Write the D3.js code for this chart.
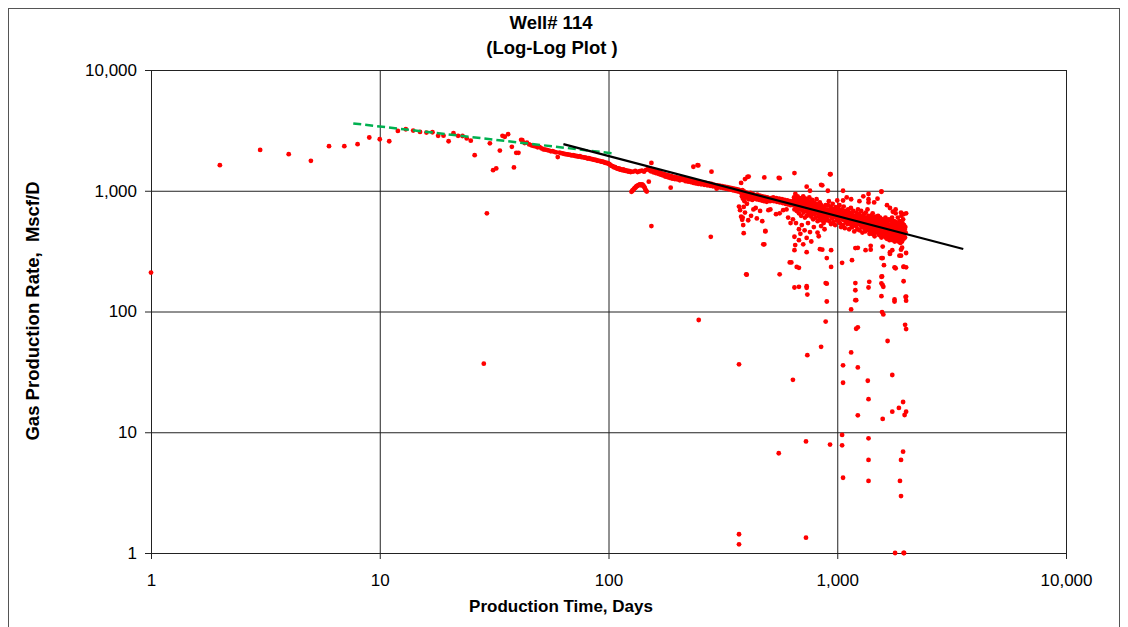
<!doctype html>
<html>
<head>
<meta charset="utf-8">
<script src="https://cdn.jsdelivr.net/npm/d3@7"></script>
<style>
  body { margin: 0; background: #fff; }
  text { font-family: "Liberation Sans", Arial, sans-serif; }
</style>
</head>
<body>
<svg width="1128" height="627"></svg>
<script>
// tick values (both axes are log scale)
var xTicks = [1, 10, 100, 1000, 10000];
var yTicks = [1, 10, 100, 1000, 10000];

// fitted trend lines [day, rate]
var greenFit = [[7.66, 3610], [105, 2040]];
var blackFit = [[63.5, 2430], [3556, 329]];

// gas rate points [day, Mscf/D]
var earlyPoints = [[1,210],[2,1630],[3,2180],[4,2010],[5,1770],[6,2340],[7,2340],[8,2430],[9,2760],[10,2670],
  [11,2570],[12,3130],[13,3230],[14,3150],[15,3070],[16,3030],[17,3050],[18,2850],[19,2860],[20,2570],
  [21,3000],[22,2850],[23,2840],[24,2710],[25,2600],[26,1970],[28.5,37],[29.4,650],[30.3,2470],[31.3,1480],
  [32.3,1530],[33.5,2150],[34.4,2850],[35.2,2800],[36.4,2940],[37.8,2310],[38.6,1560],[39.5,2060],[40.4,2060],[41.5,2640]];

var declinePoints = [[42,2620],[43,2480],[44,2500],[45,2420],[46,2380],[47,2350],[48,2330],[49,2290],[50,2300],
  [51,2240],[52,2200],[53,2190],[54,2170],[55,2150],[56,2120],[57,2130],[58,2100],[59,2080],[60,1900],[61,2070],
  [62,2050],[63,2040],[64,2020],[65,2010],[66,2000],[67,1990],[68,1980],[69,1960],[70,1970],[71,1950],[72,1940],
  [73,1930],[74,1920],[75,1930],[76,1900],[77,1900],[78,1890],[79,1880],[80,1870],[81,1850],[82,1860],[83,1840],
  [84,1830],[85,1830],[86,1810],[87,1800],[88,1800],[89,1780],[90,1770],[91,1770],[92,1760],[93,1740],[94,1740],
  [95,1730],[96,1720],[97,1700],[98,1700],[99,1690],[100,1680],[101,1660],[102,1630],[103,1610],[104,1600],
  [105,1580],[106,1560],[107,1570],[108,1540],[109,1530],[110,1520],[111,1530],[112,1500],[113,1510],[114,1490],
  [115,1480],[116,1500],[117,1470],[118,1480],[119,1460],[120,1470],[121,1450],[122,1460],[123,1440],[124,1450],
  [125,1430],[128,1440],[131,1460],[134,1430],[137,1450],[140,1470],[143,1440],[146,1490],
  [126,980],[127,1000],[128,1010],[129,1030],[130,1050],[131,1060],[132,1080],[133,1090],[134,1100],[135,1110],
  [136,1120],[137,1130],[138,1120],[139,1110],[140,1130],[141,1120],[142,1100],[143,1080],[144,1060],[145,1020],
  [146,1000],[147,985],
  [149,1520],[151,1480],[153,1450],[155,1500],[157,1420],[159,1460],[161,1400],[163,1440],[165,1380],[167,1420],
  [169,1360],[171,1390],[173,1340],[175,1370],[177,1310],[179,1350],[181,1300],[183,1340],[185,1280],[188,1320],
  [190,1260],[193,1300],[195,1250],[198,1290],[200,1240],[203,1280],[205,1220],[208,1270],[211,1230],[214,1260],
  [217,1200],[220,1240],[223,1190],[226,1230],[229,1180],[232,1220],[235,1160],[238,1200],[241,1150],[244,1190],
  [247,1140],[250,1180],[254,1130],[258,1170],[262,1120],[266,1160],[270,1110],[274,1150],[278,1100],[282,1140],
  [286,1090],[290,1120],[294,1080],[298,1110],[302,1070],[306,1100],[310,1060],[314,1090],[318,1050],[322,1080],
  [326,1040],[330,1070],[334,1030],[338,1060],[342,1020],[346,1050],[350,1010],[354,1040],[358,1000],[362,1030],
  [366,990],[370,1020],[374,980],[378,1000]];

var latePoints = [[381,960],[383,900],[385,1010],[387,860],[389,940],[391,990],[393,820],[395,920],[397,970],[399,880],
  [401,940],[403,780],[405,960],[408,900],[410,850],[412,930],[415,890],[417,960],[420,870],[422,910],[425,840],
  [427,940],[430,890],[433,860],[435,920],[438,880],[441,900],[444,850],[447,930],[450,870],[453,890],[456,840],
  [459,910],[462,860],[465,880],[468,830],[471,900],[474,850],[477,870],[480,820],[483,890],[486,840],[489,860],
  [492,810],[495,880],[498,830],[501,850],[505,860],[509,820],[513,870],[517,830],[521,850],[525,880],[529,820],
  [533,860],[537,840],[541,870],[545,810],[549,850],[553,830],[557,860],[561,800],[565,840],[569,820],[573,850],
  [577,790],[581,830],[585,810],[589,840],[593,780],[597,820],[601,800],[605,830],[609,770],[613,810],[617,790],
  [621,820],[625,760],[629,800],[633,780],[637,810],
  [641,820],[644,760],[647,880],[650,700],[653,800],[656,940],[659,740],[662,850],[665,680],[668,790],[671,900],
  [674,720],[677,820],[680,650],[683,770],[686,870],[689,700],[692,800],[695,620],[698,750],[701,850],[704,690],
  [707,780],[710,900],[713,660],[716,760],[719,820],[722,600],[725,730],[728,860],[731,680],[734,790],[737,620],
  [740,740],[743,830],[746,660],[749,770],[752,700],[755,880],[758,640],[761,750],[764,690],[767,800],[770,610],
  [773,720],[776,840],[779,660],[782,760],[785,580],[788,700],[791,800],[794,640],[797,730],[800,670],[803,780],
  [806,600],[809,710],[812,850],[815,650],[818,740],[821,560],[824,690],[827,780],[830,620],[833,720],[836,660],
  [839,800],[842,590],[845,700],[848,640],[851,760],[854,570],[857,680],[860,620],[863,740],[866,600],[869,700],
  [872,540],[875,650],[878,720],[881,590],[884,680],[887,630],[890,760],[893,570],[896,660],[899,610],
  [903,700],[907,580],[911,760],[915,640],[919,820],[923,560],[927,690],[931,620],[935,740],[939,530],[943,660],
  [947,710],[951,590],[955,780],[959,640],[963,550],[967,700],[971,610],[975,670],[979,520],[983,730],[987,600],
  [991,650],[995,570],[999,690],
  [1003,610],[1007,720],[1011,560],[1015,650],[1019,590],[1023,760],[1027,540],[1031,680],[1035,620],[1039,500],
  [1043,640],[1047,700],[1051,580],[1055,660],[1059,520],[1063,610],[1067,740],[1071,570],[1075,630],[1079,490],
  [1083,600],[1087,680],[1091,550],[1095,620],[1099,580],
  [1103,650],[1107,530],[1111,600],[1115,700],[1119,560],[1123,620],[1127,480],[1131,590],[1135,660],[1139,540],
  [1143,610],[1147,720],[1151,520],[1155,580],[1159,640],[1163,500],[1167,600],[1171,560],[1175,680],[1179,530],
  [1183,590],[1187,460],[1191,570],[1195,620],[1199,540],
  [1204,600],[1208,510],[1212,660],[1216,560],[1220,620],[1224,480],[1228,580],[1232,700],[1236,530],[1240,600],
  [1244,550],[1248,640],[1252,470],[1256,570],[1260,610],[1264,520],[1268,590],[1272,680],[1276,500],[1280,560],
  [1284,620],[1288,450],[1292,540],[1296,600],
  [1300,520],[1304,580],[1308,640],[1312,490],[1316,560],[1320,600],[1324,460],[1328,540],[1332,660],[1336,510],
  [1340,570],[1344,480],[1348,590],[1352,530],[1356,700],[1360,500],[1364,560],[1368,620],[1372,470],[1376,540],
  [1380,580],[1384,440],[1388,520],[1392,600],[1396,490],
  [1400,550],[1404,620],[1408,470],[1412,530],[1416,580],[1420,440],[1424,510],[1428,650],[1432,490],[1436,560],
  [1440,600],[1444,460],[1448,530],[1452,570],[1456,420],[1460,500],[1464,610],[1468,480],[1472,540],[1476,450],
  [1480,520],[1484,590],[1488,470],[1492,530],[1496,560],
  [1500,480],[1504,540],[1508,620],[1512,450],[1516,510],[1520,570],[1524,430],[1528,500],[1532,550],[1536,470],
  [1540,600],[1544,440],[1548,520],[1552,480],[1556,560],[1560,410],[1564,500],[1568,540],[1572,460],[1576,580],
  [1580,430],[1584,510],[1588,470],[1592,550],[1596,440],
  [1600,500],[1604,560],[1608,420],[1612,480],[1616,530],[1620,450],[1624,600],[1628,410],[1632,490],[1636,540],
  [1640,460],[1644,510],[1648,400],[1652,470],[1656,560],[1660,440],[1664,500],[1668,530],[1672,420],[1676,480],
  [1680,580],[1684,450],[1688,510],[1692,390],[1696,470],
  [1700,520],[1704,440],[1708,490],[1712,570],[1716,410],[1720,470],[1724,530],[1728,430],[1732,500],[1736,600],
  [1740,420],[1744,480],[1748,390],[1752,460],[1756,540],[1760,430],[1764,490],[1768,410],[1772,560],[1776,450],
  [1780,500],[1784,380],[1788,470],[1792,520],[1796,430],
  [1800,480],[1804,410],[1808,550],[1812,450],[1816,500],[1820,390],[1824,460],[1828,520],[1832,420],[1836,480],
  [1840,600],[1844,440],[1848,500],[1852,380],[1856,460],[1860,530],[1864,420],[1868,480],[1872,400],[1876,560],
  [1880,450],[1884,500],[1888,370],[1892,440],[1896,520],[1900,410],[1904,470],[1908,620],[1912,430],[1916,490],
  [1920,380],[1924,450],[1928,540],[1932,410],[1936,470],[1940,580],[1944,430],[1948,490],[1952,400],[1956,460],
  [1960,520],[1966,440],[1972,480],[1978,410],[1984,500],[1990,450]];

var highPoints = [[154,1700],[150,1190],[235,1580],[247,1620],[245,1630],[282,1440],[380,1160],[395,1250],[405,1300],
  [410,1310],[480,1290],[555,1280],[560,1270],[650,1400],[735,1080],[760,1000],[850,1120],[860,1110],[910,1000],
  [935,1370],[930,1370],[1000,830],[1060,1000],[1060,830],[1100,880],[1150,850],[1250,820],[1300,900],[1370,940],
  [1370,850],[1370,800],[1450,800],[1500,860],[1560,990],[1560,980],[1650,760],[1700,720],[1750,670],[1800,650],
  [1800,700],[1900,660],[1950,640],[2000,650]];

var lowPoints = [[154,510],[187,1060],[297,1040],[280,415],[300,1070],[248,85],[372,740],[376,690],[380,610],[384,575],
  [386,600],[388,520],[390,735],[390,445],[395,660],[400,203],[402,202],[408,570],[420,620],[430,700],[440,720],
  [445,590],[460,680],[470,560],[475,360],[480,360],[485,460],[485,465],[500,690],[510,700],[540,640],[560,650],
  [560,203],[580,690],[600,700],[610,600],[625,540],[630,255],[640,580],[650,416],[650,322],[655,355],[660,540],
  [665,234],[680,480],[680,390],[690,440],[700,520],[710,360],[720,470],[735,407],[735,310],[745,540],[760,455],
  [770,380],[790,500],[820,450],[830,420],[840,328],[850,510],[860,325],[880,480],[900,277],[940,322],[940,234],
  [1050,253],[1160,266],[1200,335],[1230,337],[1330,322],[1400,350],[1400,325],[1580,345],[1580,277],[1700,310],
  [1700,300],[1740,322],[1790,230],[1870,290],[1900,290],[1900,325],[1920,338],[2000,305],[2000,232],[1800,228],
  [1950,234],[1950,235],[1780,232],[1560,277],[1600,242],
  [650,158],[735,162],[735,157],[740,138],[680,160],[680,230],[620,255],[900,170],[900,121],[890,172],[890,82.5],
  [850,51],[740,43.5],[640,27.2],[555,6.7],[730,8.4],[930,7.9],[1050,7.8],[1050,9.5],[372,36.5],[372,1.43],
  [372,1.18],[730,1.34],[1200,150],[1380,176],[1570,195],[1200,172],[1370,158],[1200,124],[1210,124],[1560,171],
  [1560,194],[1560,134],[1780,126],[1950,178],[1990,132],[2000,123],[1780,121],[1580,165],[1590,160],[2000,133],
  [1150,104],[1210,72],[1230,74],[1150,45.8],[1060,35.8],[1230,34.4],[1060,25.7],[1360,26.7],[1370,18.8],
  [1230,13.8],[1580,12.9],[1740,14.8],[1860,15.9],[1940,17.8],[2000,14.8],[1970,13.9],[1740,29.8],[1660,57],
  [1980,77.6],[2000,71.5],[1570,99],[1590,94.5],[1370,8.9],[1370,5.9],[1370,3.95],[1060,4.2],[1940,6.9],
  [1900,5.9],[1880,3.95],[1900,2.96],[1790,1],[1950,1],[1960,1]];

var svg = d3.select("svg");
var plotLeft = 151, plotRight = 1066, plotTop = 70, plotBottom = 553;

var x = d3.scaleLog().domain([1, 10000]).range([plotLeft, plotRight]);
var y = d3.scaleLog().domain([1, 10000]).range([plotBottom, plotTop]);

// outer chart frame
svg.append("rect")
  .attr("x", 8.5).attr("y", 8.5)
  .attr("width", 1111).attr("height", 640)
  .attr("fill", "none").attr("stroke", "#555");

// grid
svg.append("g")
  .attr("transform", "translate(" + plotLeft + ",0)")
  .call(d3.axisLeft(y).tickValues(yTicks).tickSize(-(plotRight - plotLeft)).tickFormat(""))
  .call(function(g) { g.select(".domain").remove(); })
  .selectAll("line").attr("stroke", "#222");

svg.append("g")
  .attr("transform", "translate(0," + plotBottom + ")")
  .call(d3.axisBottom(x).tickValues(xTicks).tickSize(-(plotBottom - plotTop)).tickFormat(""))
  .call(function(g) { g.select(".domain").remove(); })
  .selectAll("line").attr("stroke", "#222");

// axes with outside ticks
var fmt = d3.format(",");
var yAxis = svg.append("g")
  .attr("transform", "translate(" + plotLeft + ",0)")
  .call(d3.axisLeft(y).tickValues(yTicks).tickFormat(fmt).tickSize(6).tickSizeOuter(0).tickPadding(8));
var xAxis = svg.append("g")
  .attr("transform", "translate(0," + plotBottom + ")")
  .call(d3.axisBottom(x).tickValues(xTicks).tickFormat(fmt).tickSize(6).tickSizeOuter(0).tickPadding(15));

[yAxis, xAxis].forEach(function(a) {
  a.selectAll("text").attr("font-size", 17).attr("fill", "#000")
    .attr("font-family", "Liberation Sans, Arial, sans-serif");
  a.selectAll("line").attr("stroke", "#222");
  a.select(".domain").attr("stroke", "#222");
});

// scatter
var allPoints = earlyPoints.concat(declinePoints, latePoints, highPoints, lowPoints);
svg.append("g").selectAll("circle")
  .data(allPoints)
  .enter().append("circle")
  .attr("cx", function(d) { return x(d[0]); })
  .attr("cy", function(d) { return y(d[1]); })
  .attr("r", 2.4)
  .attr("fill", "#ff0000");

// trend lines
var line = d3.line()
  .x(function(d) { return x(d[0]); })
  .y(function(d) { return y(d[1]); });

svg.append("path").datum(greenFit)
  .attr("d", line)
  .attr("fill", "none").attr("stroke", "#00b050")
  .attr("stroke-width", 2.5).attr("stroke-dasharray", "8,4");

svg.append("path").datum(blackFit)
  .attr("d", line)
  .attr("fill", "none").attr("stroke", "#000")
  .attr("stroke-width", 2.2);

// titles
svg.append("text").attr("x", 551).attr("y", 29)
  .attr("text-anchor", "middle").attr("font-size", 18.5).attr("font-weight", "bold")
  .text("Well# 114");
svg.append("text").attr("x", 552).attr("y", 54)
  .attr("text-anchor", "middle").attr("font-size", 18.5).attr("font-weight", "bold")
  .style("white-space", "pre")
  .text("(Log-Log Plot )");

svg.append("text").attr("x", 561).attr("y", 612)
  .attr("text-anchor", "middle").attr("font-size", 17).attr("font-weight", "bold")
  .text("Production Time, Days");

svg.append("text")
  .attr("transform", "translate(39,311) rotate(-90)")
  .attr("text-anchor", "middle").attr("font-size", 18.5).attr("font-weight", "bold")
  .style("white-space", "pre")
  .text("Gas Production Rate,  Mscf/D");
</script>
</body>
</html>
